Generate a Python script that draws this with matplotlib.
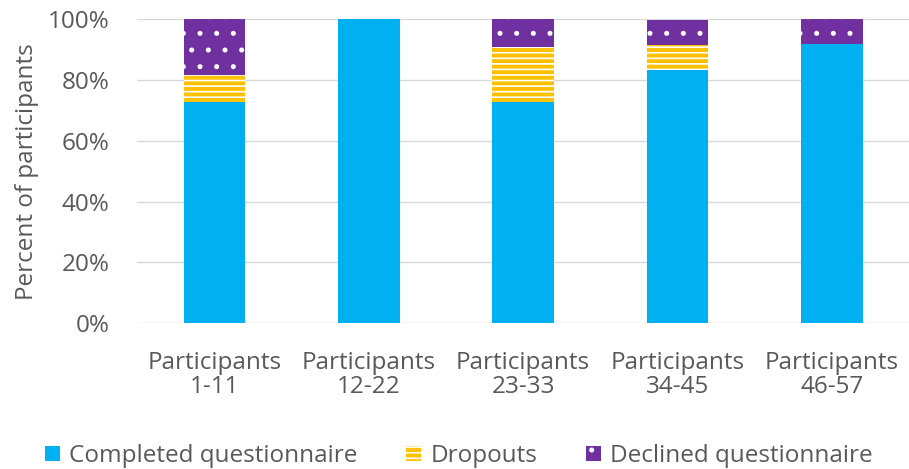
import matplotlib
matplotlib.use("Agg")
import matplotlib.pyplot as plt
import numpy as np
from matplotlib.ticker import PercentFormatter

groups = ["Participants\n1-11", "Participants\n12-22", "Participants\n23-33",
          "Participants\n34-45", "Participants\n46-57"]
completed = [72.7, 100.0, 72.7, 83.3, 91.7]
dropouts = [9.1, 0.0, 18.2, 8.3, 0.0]
declined = [18.2, 0.0, 9.1, 8.3, 8.3]

plt.rcParams["font.family"] = ["Open Sans", "DejaVu Sans"]
plt.rcParams["hatch.linewidth"] = 1.2
text_col = "#595959"
fs = 17.5

fig = plt.figure(figsize=(9.09, 4.69), dpi=100)
ax = fig.add_axes([0.151, 0.311, 0.849, 0.648])

x = np.arange(len(groups))
w = 0.4
comp = np.array(completed)
drop = np.array(dropouts)
decl = np.array(declined)

ax.bar(x, comp, w, color="#00B0F0", label="Completed questionnaire", zorder=2)
ax.bar(x, drop, w, bottom=comp, color="#FFC000", edgecolor="white", hatch="---",
       linewidth=0, label="Dropouts", zorder=2)
ax.bar(x, decl, w, bottom=comp + drop, color="#7030A0", edgecolor="white", hatch=".",
       linewidth=0, label="Declined questionnaire", zorder=2)

ax.set_xlim(-0.5, len(groups) - 0.5)
ax.set_ylim(0, 100)
ax.set_yticks(np.arange(0, 101, 20))
ax.yaxis.set_major_formatter(PercentFormatter(decimals=0))
ax.grid(axis="y", color="#D9D9D9", linewidth=1.0, zorder=0)
for s in ax.spines.values():
    s.set_visible(False)
ax.tick_params(axis="y", length=0, labelsize=fs, colors=text_col, pad=20)
ax.tick_params(axis="x", length=0, labelsize=fs, colors=text_col, pad=20)
ax.set_xticks(x)
ax.set_xticklabels(groups, fontsize=fs, color=text_col, linespacing=1.0)
ax.set_ylabel("Percent of participants", fontsize=fs, color=text_col, labelpad=6)

fig.legend(loc="lower center", bbox_to_anchor=(0.505, -0.045), ncol=3, frameon=False,
           fontsize=fs, labelcolor=text_col, handlelength=0.6, handleheight=0.6,
           columnspacing=2.0, handletextpad=0.4)

fig.savefig("out.png", dpi=100)
